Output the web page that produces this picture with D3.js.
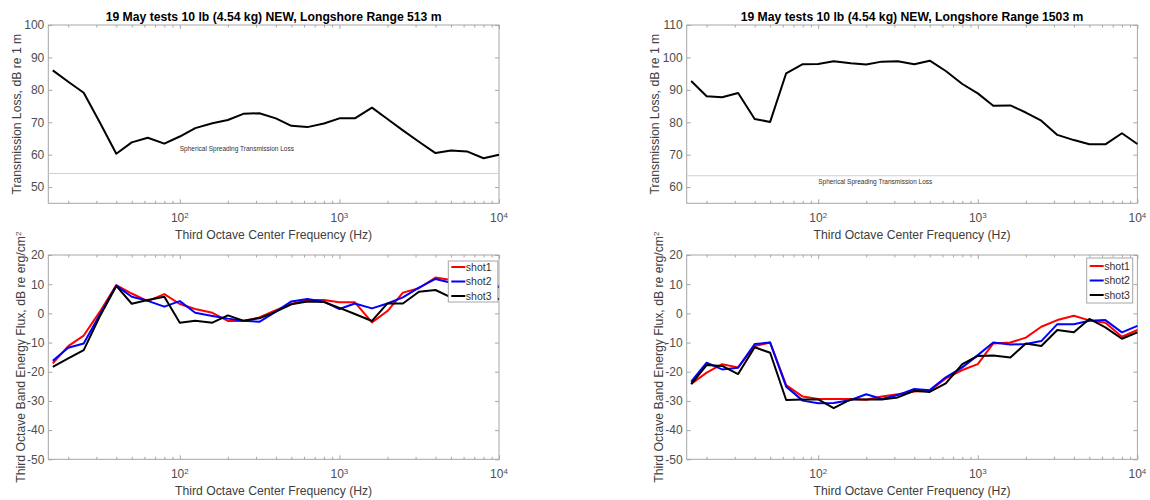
<!DOCTYPE html>
<html>
<head>
<meta charset="utf-8">
<script src="https://cdn.jsdelivr.net/npm/d3@7"></script>
<style>
    body { margin: 0; background: #fff; }
    svg { font-family: "Liberation Sans", Arial, sans-serif; }
    .tick line { stroke: #a6a6a6; }
    .domain { stroke: none; }
    .tick text { fill: #4d4d4d; font-size: 12px; }
</style>
</head>
<body>
<div id="chart"></div>
<script>
// third octave centre frequencies (Hz)
const freqs = [16, 20, 25, 31.5, 40, 50, 63, 80, 100, 125, 160, 200, 250, 315, 400, 500,
    630, 800, 1000, 1250, 1600, 2000, 2500, 3150, 4000, 5000, 6300, 8000, 10000];

// transmission loss, dB re 1 m
const tl513 = [86, 82.5, 79.1, 70, 60.3, 63.8, 65.2, 63.4, 65.6, 68.2, 69.7, 70.7, 72.6, 72.8, 71.2,
    68.9, 68.5, 69.6, 71.2, 71.2, 74.5, 71, 67.5, 64, 60.5, 61.3, 61, 58.9, 60];
const tl1503 = [92.7, 88, 87.7, 89, 81, 80.1, 95.1, 97.9, 98, 98.8, 98.2, 97.8, 98.7, 98.8, 97.9,
    99, 95.8, 91.8, 88.9, 85.1, 85.2, 83, 80.5, 76.1, 74.5, 73.2, 73.2, 76.6, 73.3];

// spherical spreading loss 20log10(r)
const spherical513 = 54.2;
const spherical1503 = 63.5;

// band energy flux, dB re erg/cm^2
const shot1_513 = [-17.1, -11.2, -7.6, 0.5, 9.7, 6.8, 4.2, 6.6, 3.2, 1.5, 0.2, -2.6, -2.6, -1.4, 1.1,
    3.2, 4.6, 4.6, 3.8, 3.8, -3.1, 0.8, 7.1, 8.6, 12.3, 11.4, 9.7, 10, 9.1];
const shot2_513 = [-16.2, -11.8, -10.3, -0.5, 9.5, 5.7, 4.3, 2.3, 4.2, 0.2, -0.9, -1.8, -2.5, -2.9, 0.6,
    4.1, 4.9, 4.0, 1.5, 3.4, 1.7, 3.4, 5.5, 8.8, 11.8, 10.5, 10.3, 10.6, 8.9];
const shot3_513 = [-18.3, -15.4, -12.6, -1.1, 9.4, 3.3, 4.6, 5.7, -3.2, -2.5, -3.2, -0.7, -2.5, -1.7, 0.6,
    3.1, 4.1, 3.9, 1.9, -0.2, -2.6, 3.4, 3.4, 7.4, 8.0, 5.5, 5.7, 5.5, 4.9];

const shot1_1503 = [-24.2, -20.3, -17.4, -18.5, -11.2, -10, -24.6, -28.5, -29.3, -29.3, -29.3, -29.6, -28.5,
    -27.7, -26.8, -26.5, -22.3, -19.4, -17.4, -10.3, -10, -8.3, -4.6, -2.3, -0.8, -2.4, -3.2, -8, -5.7];
const shot2_1503 = [-23.4, -16.9, -19.2, -18.6, -10.5, -10, -25.1, -29.9, -30.8, -30.7, -29.7, -27.7, -29.3,
    -28, -25.9, -26.3, -21.9, -18.5, -14.3, -10, -10.7, -10.5, -9.5, -3.7, -3.7, -2.5, -2.3, -6.5, -4.3];
const shot3_1503 = [-24.2, -17.7, -18, -20.8, -11.6, -13.5, -29.7, -29.5, -29.5, -32.5, -29.5, -29.5, -29.5,
    -28.8, -26.5, -26.9, -24, -17.4, -14.6, -14.4, -15.1, -10.3, -11.2, -5.7, -6.5, -1.9, -4.8, -8.7, -6.5];

const shotNames = ["shot1", "shot2", "shot3"];
const shotColors = ["#ff0000", "#0000ff", "#000000"];

// axes ticks
const xMajorTicks = [100, 1000, 10000];
const xMinorTicks = [20, 30, 40, 50, 60, 70, 80, 90, 200, 300, 400, 500, 600, 700, 800, 900,
    2000, 3000, 4000, 5000, 6000, 7000, 8000, 9000];
const tlTicks513 = [50, 60, 70, 80, 90, 100];
const tlTicks1503 = [60, 70, 80, 90, 100, 110];
const fluxTicks = [-50, -40, -30, -20, -10, 0, 10, 20];

const xLabel = "Third Octave Center Frequency (Hz)";
const tlLabel = "Transmission Loss, dB re 1 m";
const fluxLabel = "Third Octave Band Energy Flux, dB re erg/cm";
const sphericalLabel = "Spherical Spreading Transmission Loss";


class PanelVis {
    constructor(svg, cfg) {
        this.svg = svg;
        this.cfg = cfg;
        this.initVis();
    }

    initVis() {
        let vis = this;
        let c = vis.cfg;

        vis.g = vis.svg.append("g")
            .attr("transform", `translate(${c.left}, ${c.top})`);

        vis.x = d3.scaleLog()
            .domain([15, 10000])
            .range([0, c.width]);

        vis.y = d3.scaleLinear()
            .domain(c.yDomain)
            .range([c.height, 0]);

        // axes, ticks inside on all four sides
        vis.g.append("g")
            .attr("class", "y-axis")
            .call(d3.axisLeft(vis.y).tickValues(c.yTicks).tickSize(-4).tickPadding(4)
                .tickFormat(d => String(d)));
        vis.g.append("g")
            .attr("transform", `translate(${c.width}, 0)`)
            .call(d3.axisRight(vis.y).tickValues(c.yTicks).tickSize(-4).tickFormat(""));

        vis.g.append("g")
            .attr("class", "x-axis")
            .attr("transform", `translate(0, ${c.height})`)
            .call(d3.axisBottom(vis.x).tickValues(xMajorTicks).tickSize(-4).tickFormat(""));
        vis.g.append("g")
            .attr("transform", `translate(0, ${c.height})`)
            .call(d3.axisBottom(vis.x).tickValues(xMinorTicks).tickSize(-2.5).tickFormat(""));
        vis.g.append("g")
            .call(d3.axisTop(vis.x).tickValues(xMajorTicks).tickSize(-4).tickFormat(""));
        vis.g.append("g")
            .call(d3.axisTop(vis.x).tickValues(xMinorTicks).tickSize(-2.5).tickFormat(""));

        // 10^n tick labels
        xMajorTicks.forEach(t => {
            let txt = vis.g.append("text")
                .attr("x", vis.x(t))
                .attr("y", c.height + 19)
                .attr("text-anchor", "middle")
                .style("font-size", "12px")
                .style("fill", "#4d4d4d");
            txt.append("tspan").text("10");
            txt.append("tspan")
                .attr("dy", "-0.55em")
                .style("font-size", "8px")
                .text(Math.round(Math.log10(t)));
        });

        // box
        vis.g.append("rect")
            .attr("width", c.width)
            .attr("height", c.height)
            .attr("fill", "none")
            .attr("stroke", "#a6a6a6")
            .attr("stroke-width", 1);

        // x label
        vis.g.append("text")
            .attr("x", c.width / 2)
            .attr("y", c.height + 35.5)
            .attr("text-anchor", "middle")
            .style("font-size", "12.2px")
            .style("fill", "#404040")
            .text(xLabel);

        // y label
        let yl = vis.g.append("text")
            .attr("transform", `translate(${-c.yLabelOffset}, ${c.height / 2}) rotate(-90)`)
            .attr("text-anchor", "middle")
            .attr("dy", "0.35em")
            .style("font-size", "12.2px")
            .style("fill", "#404040");
        yl.append("tspan").text(c.yLabel);
        if (c.yLabelSup) {
            yl.append("tspan")
                .attr("dy", "-0.5em")
                .style("font-size", "8px")
                .text(c.yLabelSup);
        }

        if (c.title) {
            vis.g.append("text")
                .attr("x", c.width / 2)
                .attr("y", -4.5)
                .attr("text-anchor", "middle")
                .style("font-size", "12.2px")
                .style("font-weight", "bold")
                .style("fill", "#000")
                .text(c.title);
        }

        vis.line = d3.line()
            .x(d => vis.x(d[0]))
            .y(d => vis.y(d[1]));

        vis.updateVis();
    }

    updateVis() {
        let vis = this;
        let c = vis.cfg;

        if (c.spherical !== undefined) {
            vis.g.append("line")
                .attr("x1", 0)
                .attr("x2", c.width)
                .attr("y1", vis.y(c.spherical))
                .attr("y2", vis.y(c.spherical))
                .attr("stroke", "#cfcfcf")
                .attr("stroke-width", 1);
            vis.g.append("text")
                .attr("x", vis.x(100))
                .attr("y", vis.y(c.sphericalLabelAt))
                .attr("dy", "0.35em")
                .style("font-size", "6.5px")
                .style("fill", "#333")
                .text(sphericalLabel);
        }

        vis.g.selectAll(".series")
            .data(c.series)
            .enter()
            .append("path")
            .attr("class", "series")
            .attr("fill", "none")
            .attr("stroke", d => d.color)
            .attr("stroke-width", 2)
            .attr("stroke-linejoin", "round")
            .attr("d", d => vis.line(freqs.map((f, i) => [f, d.values[i]])));

        if (c.legend) {
            let lg = vis.g.append("g")
                .attr("transform", `translate(${c.legend.x}, ${c.legend.y})`);
            lg.append("rect")
                .attr("width", c.legend.w)
                .attr("height", c.legend.h)
                .attr("fill", "#fff")
                .attr("stroke", "#a6a6a6")
                .attr("stroke-width", 1);
            c.series.forEach((s, i) => {
                let yy = c.legend.h / 2 + (i - 1) * 14.5;
                lg.append("line")
                    .attr("x1", 3)
                    .attr("x2", 17)
                    .attr("y1", yy)
                    .attr("y2", yy)
                    .attr("stroke", s.color)
                    .attr("stroke-width", 2);
                lg.append("text")
                    .attr("x", 17.5)
                    .attr("y", yy)
                    .attr("dy", "0.35em")
                    .style("font-size", "10.5px")
                    .style("fill", "#333")
                    .text(s.name);
            });
        }
    }
}

let svg = d3.select("#chart").append("svg")
    .attr("width", 1150)
    .attr("height", 500);

const plotW = 450.7;

new PanelVis(svg, {
    left: 48.3, top: 25, width: plotW, height: 178.3,
    yDomain: [45, 100], yTicks: tlTicks513, yLabel: tlLabel, yLabelOffset: 31.5,
    title: "19 May tests 10 lb (4.54 kg) NEW, Longshore Range 513 m",
    spherical: spherical513, sphericalLabelAt: 61.7,
    series: [{name: "TL", color: "#000", values: tl513}]
});

new PanelVis(svg, {
    left: 686.7, top: 25, width: plotW, height: 178.3,
    yDomain: [55, 110], yTicks: tlTicks1503, yLabel: tlLabel, yLabelOffset: 31.5,
    title: "19 May tests 10 lb (4.54 kg) NEW, Longshore Range 1503 m",
    spherical: spherical1503, sphericalLabelAt: 61.7,
    series: [{name: "TL", color: "#000", values: tl1503}]
});

new PanelVis(svg, {
    left: 48.3, top: 255, width: plotW, height: 204.3,
    yDomain: [-50, 20], yTicks: fluxTicks, yLabel: fluxLabel, yLabelSup: "2", yLabelOffset: 28,
    legend: {x: 400, y: 6, w: 49.5, h: 41},
    series: [
        {name: shotNames[0], color: shotColors[0], values: shot1_513},
        {name: shotNames[1], color: shotColors[1], values: shot2_513},
        {name: shotNames[2], color: shotColors[2], values: shot3_513}
    ]
});

new PanelVis(svg, {
    left: 686.7, top: 255, width: plotW, height: 204.3,
    yDomain: [-50, 20], yTicks: fluxTicks, yLabel: fluxLabel, yLabelSup: "2", yLabelOffset: 28,
    legend: {x: 400, y: 3, w: 46, h: 45},
    series: [
        {name: shotNames[0], color: shotColors[0], values: shot1_1503},
        {name: shotNames[1], color: shotColors[1], values: shot2_1503},
        {name: shotNames[2], color: shotColors[2], values: shot3_1503}
    ]
});
</script>
</body>
</html>
